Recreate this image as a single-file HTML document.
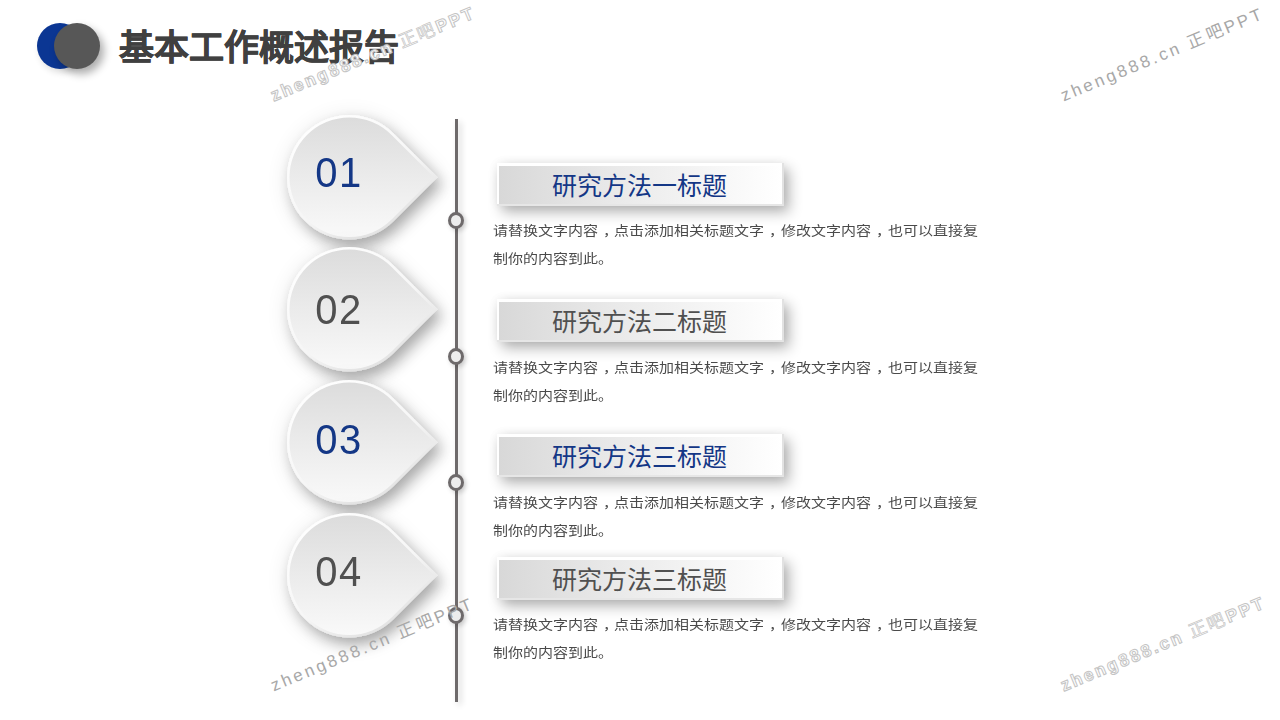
<!DOCTYPE html>
<html lang="zh-CN">
<head>
<meta charset="utf-8">
<style>
html,body{margin:0;padding:0;}
body{width:1280px;height:720px;position:relative;overflow:hidden;background:#ffffff;font-family:"Liberation Sans",sans-serif;}
.abs{position:absolute;}
.c1{left:37px;top:23px;width:46px;height:46px;border-radius:50%;background:#0b3693;box-shadow:2px 4px 6px rgba(0,0,0,0.12);}
.c2{left:54px;top:23px;width:46px;height:46px;border-radius:50%;background:#575757;box-shadow:4px 5px 8px rgba(0,0,0,0.33);}
.title{left:119px;top:24px;font-size:35px;font-weight:bold;color:#404040;line-height:48px;white-space:nowrap;-webkit-text-stroke:0.6px #404040;}
.vline{left:455px;top:119px;width:3px;height:583px;background:#6e6a6b;box-shadow:3px 3px 6px rgba(0,0,0,0.18);}
.ring{width:10px;height:11px;border:3px solid #6e6a6b;border-radius:50%;background:#ededed;box-shadow:2px 2px 5px rgba(0,0,0,0.18);}
.num{left:299.1px;width:80px;text-align:center;font-size:43px;line-height:48px;letter-spacing:1.5px;transform:scaleX(0.93);}
.blue{color:#143786;}
.grey{color:#505050;}
.box{left:496.5px;width:285px;height:40.5px;background:#ffffff;border-right:2.5px solid #e2e2e2;border-bottom:2.5px solid #e6e6e6;box-shadow:5px 6px 14px rgba(0,0,0,0.30),0 0 10px rgba(0,0,0,0.05);}
.box .g{position:absolute;left:2.5px;top:2.5px;right:0;bottom:0;background:linear-gradient(90deg,#d8d8d8 0%,#e9e9e9 40%,#ffffff 100%);}
.box .t{position:absolute;left:0;right:0;top:1.5px;height:43px;line-height:43px;text-align:center;font-size:25px;}
.para{left:492.5px;width:520px;font-size:15px;line-height:31.6px;color:#4a4a4a;white-space:nowrap;transform-origin:0 0;transform:scaleY(0.87);}
.cm{margin-left:5px;margin-right:-3.2px;}
.wm{font-size:17px;color:#a8a8a8;letter-spacing:2.9px;white-space:nowrap;transform-origin:0 0;transform:rotate(-22.5deg);z-index:5;}
.wm.h{font-weight:bold;color:#ffffff;-webkit-text-stroke:1px #c4c4c4;letter-spacing:2.4px;font-size:17.5px;text-shadow:0 0 2px #fff;}
.wm.h b{font-weight:normal;-webkit-text-stroke:0.7px #c4c4c4;letter-spacing:3px;}
</style>
</head>
<body>
<svg width="0" height="0" style="position:absolute">
<defs>
<linearGradient id="gIn" x1="0" y1="0" x2="0" y2="1">
 <stop offset="0" stop-color="#dcdcdc"/><stop offset="0.5" stop-color="#ebebeb"/><stop offset="1" stop-color="#f9f9f9"/>
</linearGradient>
<linearGradient id="gRim" x1="0.15" y1="0" x2="0.85" y2="1">
 <stop offset="0" stop-color="#ffffff"/><stop offset="0.55" stop-color="#f6f6f6"/><stop offset="1" stop-color="#dadada"/>
</linearGradient>
<filter id="fSh" x="-40%" y="-40%" width="190%" height="190%">
 <feGaussianBlur in="SourceAlpha" stdDeviation="7" result="b1"/>
 <feOffset in="b1" dx="5" dy="7" result="o1"/>
 <feComponentTransfer in="o1" result="s1"><feFuncA type="linear" slope="0.28"/></feComponentTransfer>
 <feGaussianBlur in="SourceAlpha" stdDeviation="12" result="b2"/>
 <feOffset in="b2" dx="2" dy="4" result="o2"/>
 <feComponentTransfer in="o2" result="s2"><feFuncA type="linear" slope="0.12"/></feComponentTransfer>
 <feMerge><feMergeNode in="s2"/><feMergeNode in="s1"/><feMergeNode in="SourceGraphic"/></feMerge>
</filter>
</defs></svg>
<div class="abs c1"></div>
<div class="abs c2"></div>
<div class="abs wm h" style="left:266px;top:83px;">zheng888.cn <b>正吧</b>PPT</div>
<div class="abs wm" style="left:1056px;top:83px;">zheng888.cn 正吧PPT</div>
<div class="abs wm" style="left:266px;top:673px;">zheng888.cn 正吧PPT</div>
<div class="abs wm h" style="left:1056px;top:673px;">zheng888.cn <b>正吧</b>PPT</div>
<div class="abs title">基本工作概述报告</div>
<div class="abs vline"></div>
<div class="abs ring" style="left:448px;top:211.90px"></div>
<div class="abs ring" style="left:448px;top:348.40px"></div>
<div class="abs ring" style="left:448px;top:473.70px"></div>
<div class="abs ring" style="left:448px;top:607.30px"></div>

<svg class="abs" style="left:256.60px;top:84.90px" width="225" height="185">
<path d="M180.41 92.30 L136.35 136.35 A62.30 62.30 0 1 1 136.35 48.25 Z" fill="url(#gRim)" filter="url(#fSh)"/>
<path d="M176.87 92.30 L134.58 134.58 A59.80 59.80 0 1 1 134.58 50.02 Z" fill="url(#gIn)"/>
</svg>
<div class="abs num blue" style="top:147.80px">01</div><svg class="abs" style="left:256.60px;top:216.60px" width="225" height="185">
<path d="M180.41 92.30 L136.35 136.35 A62.30 62.30 0 1 1 136.35 48.25 Z" fill="url(#gRim)" filter="url(#fSh)"/>
<path d="M176.87 92.30 L134.58 134.58 A59.80 59.80 0 1 1 134.58 50.02 Z" fill="url(#gIn)"/>
</svg>
<div class="abs num grey" style="top:284.90px">02</div><svg class="abs" style="left:256.60px;top:350.20px" width="225" height="185">
<path d="M180.41 92.30 L136.35 136.35 A62.30 62.30 0 1 1 136.35 48.25 Z" fill="url(#gRim)" filter="url(#fSh)"/>
<path d="M176.87 92.30 L134.58 134.58 A59.80 59.80 0 1 1 134.58 50.02 Z" fill="url(#gIn)"/>
</svg>
<div class="abs num blue" style="top:414.90px">03</div><svg class="abs" style="left:256.60px;top:482.50px" width="225" height="185">
<path d="M180.41 92.30 L136.35 136.35 A62.30 62.30 0 1 1 136.35 48.25 Z" fill="url(#gRim)" filter="url(#fSh)"/>
<path d="M176.87 92.30 L134.58 134.58 A59.80 59.80 0 1 1 134.58 50.02 Z" fill="url(#gIn)"/>
</svg>
<div class="abs num grey" style="top:547.20px">04</div>
<div class="abs box" style="top:163px;"><div class="g"></div><div class="t blue">研究方法一标题</div></div>
<div class="abs para" style="top:216.55px;">请替换文字内容<span class="cm">，</span>点击添加相关标题文字<span class="cm">，</span>修改文字内容<span class="cm">，</span>也可以直接复<br>制你的内容到此。</div><div class="abs box" style="top:299px;"><div class="g"></div><div class="t grey">研究方法二标题</div></div>
<div class="abs para" style="top:353.50px;">请替换文字内容<span class="cm">，</span>点击添加相关标题文字<span class="cm">，</span>修改文字内容<span class="cm">，</span>也可以直接复<br>制你的内容到此。</div><div class="abs box" style="top:434px;"><div class="g"></div><div class="t blue">研究方法三标题</div></div>
<div class="abs para" style="top:488.50px;">请替换文字内容<span class="cm">，</span>点击添加相关标题文字<span class="cm">，</span>修改文字内容<span class="cm">，</span>也可以直接复<br>制你的内容到此。</div><div class="abs box" style="top:557px;"><div class="g"></div><div class="t grey">研究方法三标题</div></div>
<div class="abs para" style="top:610.60px;">请替换文字内容<span class="cm">，</span>点击添加相关标题文字<span class="cm">，</span>修改文字内容<span class="cm">，</span>也可以直接复<br>制你的内容到此。</div>
</body>
</html>
